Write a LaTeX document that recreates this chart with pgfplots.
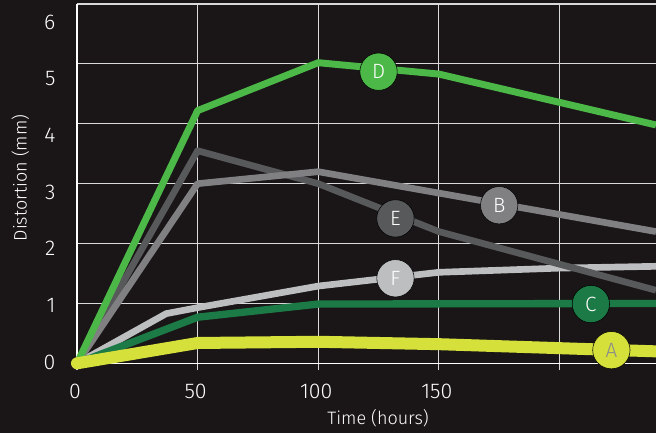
\documentclass[border=0pt]{standalone}
\usepackage{pgfplots}
\pgfplotsset{compat=1.18}
\usepackage{fontspec}
\setmainfont{Fira Sans Light}
\definecolor{bgcol}{HTML}{1A1617}
\definecolor{gridcol}{HTML}{DADADA}
\definecolor{colA}{HTML}{D5E03A}
\definecolor{colB}{HTML}{808083}
\definecolor{colC}{HTML}{1B7A45}
\definecolor{colD}{HTML}{4CB848}
\definecolor{colE}{HTML}{58595B}
\definecolor{colF}{HTML}{BCBEC0}
\definecolor{Atext}{HTML}{8A8A8C}
\begin{document}
\begin{tikzpicture}
\fill[bgcol] (-57.75pt,-52.3pt) rectangle (434.25pt,272.5pt);
\begin{axis}[
  scale only axis,
  width=434.25pt, height=269.5pt,
  xmin=0, xmax=240, ymin=0, ymax=6,
  axis x line=bottom, axis y line=left,
  axis line style={-, white, line width=0.8pt},
  xtick={0,50,100,150,200}, xticklabels={0,50,100,150,{}},
  ytick={0,1,2,3,4,5,6},
  yticklabel={\pgfmathsetlengthmacro\myraise{-4.5pt-2.4pt*\tick}\raisebox{\myraise}{\pgfmathprintnumber{\tick}}},
  grid=major,
  grid style={gridcol, line width=0.8pt},
  tick align=outside,
  major tick length=5pt,
  xtick style={gridcol, line width=0.8pt},
  ytick style={draw=none},
  tick label style={white, font=\fontsize{16}{18}\selectfont},
  /pgf/number format/assume math mode=true,
  xticklabel style={anchor=north, inner sep=0pt, yshift=-10pt, xshift=-1.5pt},
  yticklabel style={anchor=base east, inner sep=0pt, xshift=-11pt},
  xlabel={Time (hours)}, ylabel={Distortion (mm)},
  label style={white, font=\fontsize{13.5}{15}\selectfont},
  xlabel style={at={(axis description cs:0.52,-0.152)}, anchor=center},
  ylabel style={at={(axis description cs:-0.098,0.516)}, anchor=center},
  clip=false,
  every axis plot/.append style={line join=round},
]
% F
\addplot[colF, line width=5pt] coordinates {(0,0) (37,0.83) (50,0.93) (100,1.29) (150,1.52) (200,1.59) (240,1.62)};
% E
\addplot[colE, line width=5pt] coordinates {(0,0) (50,3.55) (100,3.0) (150,2.2) (240,1.22)};
% B
\addplot[colB, line width=5pt] coordinates {(0,0) (50,3.0) (100,3.2) (240,2.2)};
% C
\addplot[colC, line width=5.5pt] coordinates {(0,0) (50,0.77) (100,0.99) (240,1.0)};
% D
\addplot[colD, line width=5.2pt] coordinates {(0,0) (50,4.22) (100,5.02) (150,4.83) (240,3.98)};
% A
\addplot[colA, line width=9pt, line cap=round] coordinates {(0,0) (50,0.34) (100,0.36) (150,0.32) (240,0.2)};
% labels
\addplot[only marks, mark=*, mark size=14pt, mark options={draw=none, fill=colD}, nodes near coords={D}, nodes near coords align={center}, every node near coord/.append style={text=white, font=\fontsize{15.5}{17}\selectfont}] coordinates {(125,4.87)};
\addplot[only marks, mark=*, mark size=14pt, mark options={draw=none, fill=colB}, nodes near coords={B}, nodes near coords align={center}, every node near coord/.append style={text=white, font=\fontsize{15.5}{17}\selectfont}] coordinates {(175,2.64)};
\addplot[only marks, mark=*, mark size=14pt, mark options={draw=none, fill=colE}, nodes near coords={E}, nodes near coords align={center}, every node near coord/.append style={text=white, font=\fontsize{15.5}{17}\selectfont}] coordinates {(132,2.42)};
\addplot[only marks, mark=*, mark size=14pt, mark options={draw=none, fill=colF}, nodes near coords={F}, nodes near coords align={center}, every node near coord/.append style={text=white, font=\fontsize{15.5}{17}\selectfont}] coordinates {(132,1.42)};
\addplot[only marks, mark=*, mark size=14pt, mark options={draw=none, fill=colC}, nodes near coords={C}, nodes near coords align={center}, every node near coord/.append style={text=white, font=\fontsize{15.5}{17}\selectfont}] coordinates {(213,0.99)};
\addplot[only marks, mark=*, mark size=14pt, mark options={draw=none, fill=colA}, nodes near coords={A}, nodes near coords align={center}, every node near coord/.append style={text=Atext, font=\fontsize{15.5}{17}\selectfont}] coordinates {(221.5,0.22)};
\end{axis}
\pgfresetboundingbox
\path[use as bounding box] (-57.75pt,-52.3pt) rectangle (434.25pt,272.5pt);
\end{tikzpicture}
\end{document}
